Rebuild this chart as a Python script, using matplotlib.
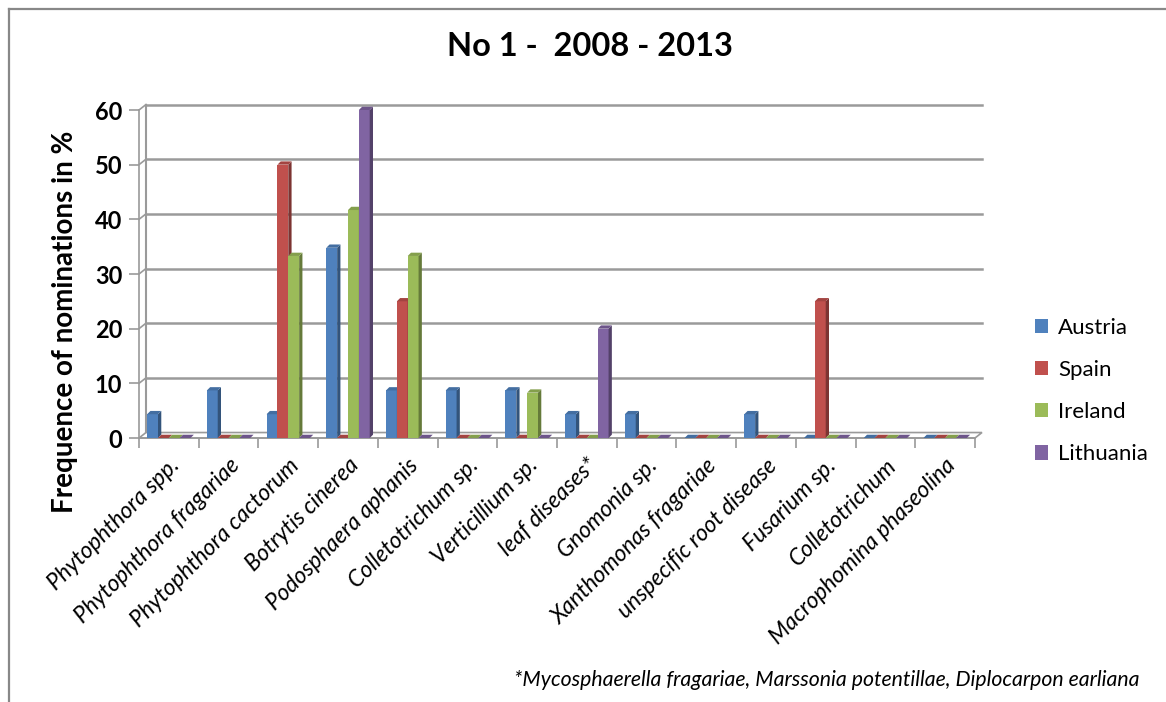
import numpy as np
import matplotlib.pyplot as plt
from matplotlib.patches import Polygon, Patch
from matplotlib.lines import Line2D
from matplotlib.colors import to_rgb

plt.rcParams['font.family'] = ['Lato', 'DejaVu Sans']

pathogens = ['Phytophthora spp.', 'Phytophthora fragariae', 'Phytophthora cactorum',
             'Botrytis cinerea', 'Podosphaera aphanis', 'Colletotrichum sp.',
             'Verticillium sp.', 'leaf diseases*', 'Gnomonia sp.',
             'Xanthomonas fragariae', 'unspecific root disease', 'Fusarium sp.',
             'Colletotrichum', 'Macrophomina phaseolina']
countries = ['Austria', 'Spain', 'Ireland', 'Lithuania']
austria = [4.35, 8.7, 4.35, 34.8, 8.7, 8.7, 8.7, 4.35, 4.35, 0, 4.35, 0, 0, 0]
spain = [0, 0, 50, 0, 25, 0, 0, 0, 0, 0, 0, 25, 0, 0]
ireland = [0, 0, 33.3, 41.7, 33.3, 0, 8.3, 0, 0, 0, 0, 0, 0, 0]
lithuania = [0, 0, 0, 60, 0, 0, 0, 20, 0, 0, 0, 0, 0, 0]
colors = ['#4F81BD', '#C0504D', '#9BBB59', '#8064A2']

series = [austria, spain, ireland, lithuania]
n = len(pathogens)
yticks = np.arange(0, 61, 10)

W, H = 1166, 702
fig = plt.figure(figsize=(W / 100, H / 100), dpi=100)
ax = fig.add_axes([139 / W, (H - 438) / H, 836 / W, 328 / H])
ax.set_xlim(0, n)
ax.set_ylim(0, 60)

# depth of the back wall and of each column
wall_dx, wall_dy = 0.117, 1.0
bar_dx, bar_dy = 0.055, 0.6
grey = '#9a9a9a'


def shade(c, f):
    r, g, b = to_rgb(c)
    return (r * f, g * f, b * f)


# back wall gridlines and the floor
for v in yticks[1:]:
    ax.plot([wall_dx, n + wall_dx], [v + wall_dy] * 2, color=grey, lw=1.8,
            clip_on=False, zorder=1)
    ax.plot([0, wall_dx], [v, v + wall_dy], color=grey, lw=1.2, clip_on=False, zorder=1)
ax.plot([wall_dx, wall_dx], [wall_dy, 60 + wall_dy], color=grey, lw=1.5, clip_on=False, zorder=1)
floor = Polygon([(0, 0), (n, 0), (n + wall_dx, wall_dy), (wall_dx, wall_dy)],
                closed=True, facecolor='white', edgecolor=grey, lw=1.2, clip_on=False, zorder=1)
ax.add_patch(floor)

# 3d-looking clustered columns
w = 1 / 5.5
gap = 0.75 * w
for j in range(n):
    for i, vals in enumerate(series):
        v = vals[j]
        x0 = j + gap + i * w
        x1 = x0 + w
        c = colors[i]
        z = 3 + j * 0.01 + i * 0.001
        if v > 0:
            ax.add_patch(Polygon([(x0, 0), (x1, 0), (x1, v), (x0, v)], closed=True,
                                 facecolor=c, edgecolor='none', clip_on=False, zorder=z))
            ax.add_patch(Polygon([(x1, 0), (x1 + bar_dx, bar_dy), (x1 + bar_dx, v + bar_dy), (x1, v)],
                                 closed=True, facecolor=shade(c, 0.65), edgecolor='none',
                                 clip_on=False, zorder=z))
        ax.add_patch(Polygon([(x0, v), (x1, v), (x1 + bar_dx, v + bar_dy), (x0 + bar_dx, v + bar_dy)],
                             closed=True, facecolor=shade(c, 0.85), edgecolor='none',
                             clip_on=False, zorder=z))

for s in ['top', 'right']:
    ax.spines[s].set_visible(False)
for s in ['left', 'bottom']:
    ax.spines[s].set_color(grey)
    ax.spines[s].set_linewidth(1.2)

ax.set_yticks(yticks)
ax.set_yticklabels([str(v) for v in yticks], fontsize=17, fontweight='bold')
ax.tick_params(axis='y', length=7, width=1.2, color=grey, pad=5)

ax.set_xticks(np.arange(n + 1))
ax.set_xticklabels([])
ax.tick_params(axis='x', which='major', length=7, width=1.2, color=grey)
ax.set_xticks(np.arange(n) + 0.5, minor=True)
ax.set_xticklabels(pathogens, minor=True, rotation=45, ha='right', va='top',
                   rotation_mode='anchor', fontsize=16.5, fontstyle='italic')
ax.tick_params(axis='x', which='minor', length=0, pad=12)

fig.text(590 / W, 1 - 47 / H, 'No 1 -  2008 - 2013', ha='center', va='center',
         fontsize=23.5, fontweight='bold')
fig.text(65 / W, 1 - 322 / H, 'Frequence of nominations in %', rotation=90,
         ha='center', va='center', fontsize=20, fontweight='bold')
fig.text(1140 / W, 1 - 680 / H,
         '*Mycosphaerella fragariae, Marssonia potentillae, Diplocarpon earliana',
         ha='right', va='center', fontsize=15.3, fontstyle='italic')

handles = [Patch(facecolor=c, edgecolor='none', label=l) for c, l in zip(colors, countries)]
fig.legend(handles=handles, loc='center left', bbox_to_anchor=(1015 / W, 1 - 391 / H),
           frameon=False, fontsize=16, handlelength=0.6, handleheight=0.6,
           handletextpad=0.45, labelspacing=1.0)

# chart border
fig.add_artist(Line2D([9 / W, 1], [1 - 9 / H] * 2, color='#888888', lw=1.6))
fig.add_artist(Line2D([9 / W] * 2, [0, 1 - 9 / H], color='#888888', lw=1.6))

fig.savefig('out.png', dpi=100)
